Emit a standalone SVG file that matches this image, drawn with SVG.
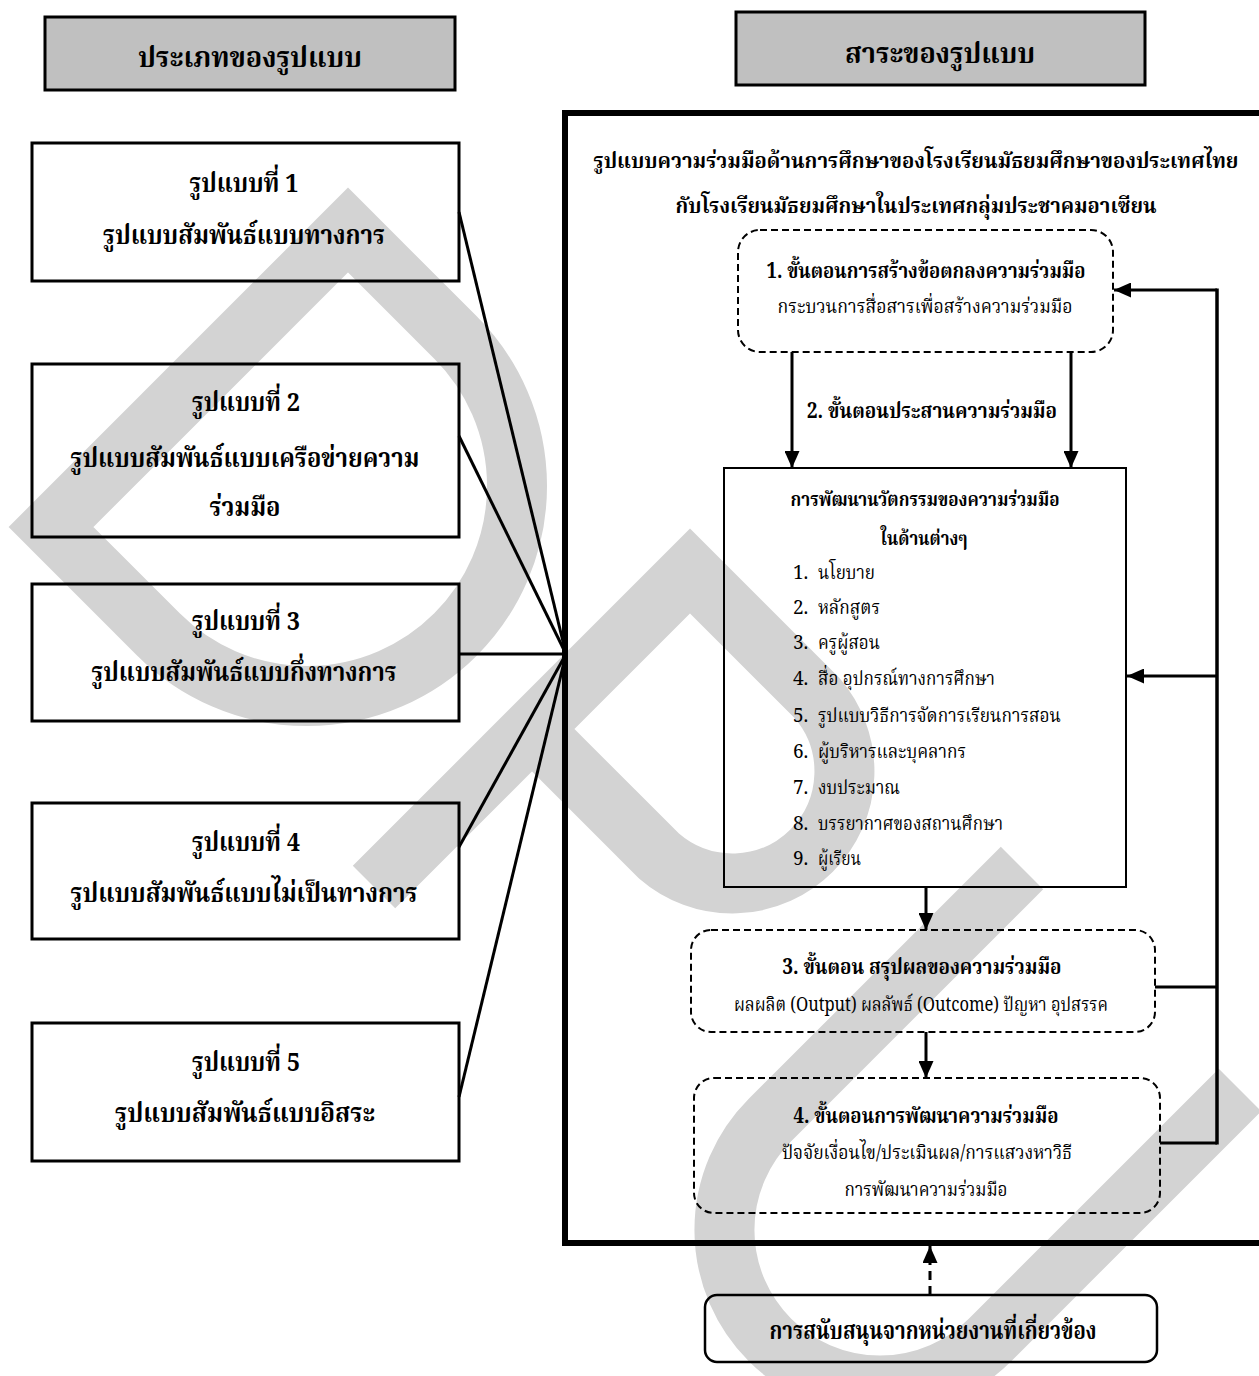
<svg xmlns="http://www.w3.org/2000/svg" width="1259" height="1376" viewBox="0 0 1259 1376">
<style>
  .wm { fill: none; stroke: #d3d3d3; stroke-width: 60; stroke-linejoin: miter; stroke-miterlimit: 10; stroke-linecap: butt; }
  .title { fill: #c0c0c0; stroke: #000; stroke-width: 3; }
  .box { fill: none; stroke: #000; stroke-width: 3; }
  .thin { fill: none; stroke: #000; stroke-width: 2; }
  .dash { fill: none; stroke: #000; stroke-width: 2; stroke-dasharray: 7 4; }
  .conn { fill: none; stroke: #000; stroke-width: 3; }
  .t { font-family: 'Noto Serif Thai', 'Noto Sans Thai', 'Liberation Serif', serif; fill: #000; text-anchor: middle; }
  .b { font-weight: bold; }
  .l { text-anchor: start; }
</style>
<defs>
  <marker id="ah" viewBox="0 0 17 15" refX="17" refY="7.5" markerWidth="17" markerHeight="15" markerUnits="userSpaceOnUse" orient="auto">
    <path d="M0,0 L17,7.5 L0,15 z" fill="#000"/>
  </marker>
</defs>

<g id="watermark">
  <path class="wm" d="M 455.5 337.5 L 348 230 L 51 527 L 158.5 634.5 A 210 210 0 0 0 455.5 337.5 Z"/>
  <path class="wm" d="M 374 887 L 690 571 L 817 698 A 112 112 0 0 1 659 856 L 532 729"/>
  <path class="wm" d="M 1022 868 L 770 1120 A 155 155 0 0 0 990 1340 L 1240 1090"/>
</g>

<g id="title-left">
  <rect class="title" x="45" y="17" width="410" height="73"/>
  <text class="t b" x="250" y="67" font-size="29" textLength="224" lengthAdjust="spacingAndGlyphs">ประเภทของรูปแบบ</text>
</g>
<g id="title-right">
  <rect class="title" x="736" y="12" width="409" height="73"/>
  <text class="t b" x="940" y="63" font-size="29" textLength="190" lengthAdjust="spacingAndGlyphs">สาระของรูปแบบ</text>
</g>

<g id="type1">
  <rect class="box" x="32" y="143" width="427" height="138"/>
  <text class="t b" x="244" y="192" font-size="26" textLength="109" lengthAdjust="spacingAndGlyphs">รูปแบบที่ 1</text>
  <text class="t b" x="244" y="244" font-size="26" textLength="282" lengthAdjust="spacingAndGlyphs">รูปแบบสัมพันธ์แบบทางการ</text>
</g>
<g id="type2">
  <rect class="box" x="32" y="364" width="427" height="173"/>
  <text class="t b" x="246" y="411" font-size="26" textLength="108" lengthAdjust="spacingAndGlyphs">รูปแบบที่ 2</text>
  <text class="t b" x="245" y="467" font-size="26" textLength="349" lengthAdjust="spacingAndGlyphs">รูปแบบสัมพันธ์แบบเครือข่ายความ</text>
  <text class="t b" x="245" y="516" font-size="26" textLength="71" lengthAdjust="spacingAndGlyphs">ร่วมมือ</text>
</g>
<g id="type3">
  <rect class="box" x="32" y="584" width="427" height="137"/>
  <text class="t b" x="246" y="630" font-size="26" textLength="108" lengthAdjust="spacingAndGlyphs">รูปแบบที่ 3</text>
  <text class="t b" x="244" y="681" font-size="26" textLength="305" lengthAdjust="spacingAndGlyphs">รูปแบบสัมพันธ์แบบกึ่งทางการ</text>
</g>
<g id="type4">
  <rect class="box" x="32" y="803" width="427" height="136"/>
  <text class="t b" x="246" y="851" font-size="26" textLength="108" lengthAdjust="spacingAndGlyphs">รูปแบบที่ 4</text>
  <text class="t b" x="244" y="902" font-size="26" textLength="347" lengthAdjust="spacingAndGlyphs">รูปแบบสัมพันธ์แบบไม่เป็นทางการ</text>
</g>
<g id="type5">
  <rect class="box" x="32" y="1023" width="427" height="138"/>
  <text class="t b" x="246" y="1071" font-size="26" textLength="108" lengthAdjust="spacingAndGlyphs">รูปแบบที่ 5</text>
  <text class="t b" x="245" y="1122" font-size="26" textLength="260" lengthAdjust="spacingAndGlyphs">รูปแบบสัมพันธ์แบบอิสระ</text>
</g>

<g id="model-frame">
  <rect x="565" y="113" width="700" height="1130" fill="none" stroke="#000" stroke-width="6"/>
  <text class="t b" x="916" y="168" font-size="20.5" textLength="645" lengthAdjust="spacingAndGlyphs">รูปแบบความร่วมมือด้านการศึกษาของโรงเรียนมัธยมศึกษาของประเทศไทย</text>
  <text class="t b" x="916" y="213" font-size="22" textLength="481" lengthAdjust="spacingAndGlyphs">กับโรงเรียนมัธยมศึกษาในประเทศกลุ่มประชาคมอาเซียน</text>
</g>

<g id="step1">
  <rect class="dash" x="738" y="230" width="375" height="122" rx="22"/>
  <text class="t b" x="926" y="278" font-size="21" textLength="319" lengthAdjust="spacingAndGlyphs">1. ขั้นตอนการสร้างข้อตกลงความร่วมมือ</text>
  <text class="t" x="925" y="313" font-size="19" textLength="295" lengthAdjust="spacingAndGlyphs">กระบวนการสื่อสารเพื่อสร้างความร่วมมือ</text>
</g>

<g id="step2-label">
  <text class="t b" x="932" y="418" font-size="21" textLength="250" lengthAdjust="spacingAndGlyphs">2. ขั้นตอนประสานความร่วมมือ</text>
</g>

<g id="innovation">
  <rect class="thin" x="724" y="468" width="402" height="419"/>
  <text class="t b" x="925" y="506" font-size="20" textLength="269" lengthAdjust="spacingAndGlyphs">การพัฒนานวัตกรรมของความร่วมมือ</text>
  <text class="t b" x="924" y="545" font-size="20" textLength="87" lengthAdjust="spacingAndGlyphs">ในด้านต่างๆ</text>
  <g class="t l" font-size="19">
    <text x="793" y="579">1.</text><text x="818" y="579" textLength="57" lengthAdjust="spacingAndGlyphs">นโยบาย</text>
    <text x="793" y="614">2.</text><text x="818" y="614" textLength="62" lengthAdjust="spacingAndGlyphs">หลักสูตร</text>
    <text x="793" y="649">3.</text><text x="818" y="649" textLength="62" lengthAdjust="spacingAndGlyphs">ครูผู้สอน</text>
    <text x="793" y="685">4.</text><text x="818" y="685" textLength="177" lengthAdjust="spacingAndGlyphs">สื่อ อุปกรณ์ทางการศึกษา</text>
    <text x="793" y="722">5.</text><text x="818" y="722" textLength="243" lengthAdjust="spacingAndGlyphs">รูปแบบวิธีการจัดการเรียนการสอน</text>
    <text x="793" y="758">6.</text><text x="818" y="758" textLength="148" lengthAdjust="spacingAndGlyphs">ผู้บริหารและบุคลากร</text>
    <text x="793" y="794">7.</text><text x="818" y="794" textLength="82" lengthAdjust="spacingAndGlyphs">งบประมาณ</text>
    <text x="793" y="830">8.</text><text x="818" y="830" textLength="185" lengthAdjust="spacingAndGlyphs">บรรยากาศของสถานศึกษา</text>
    <text x="793" y="865">9.</text><text x="818" y="865" textLength="43" lengthAdjust="spacingAndGlyphs">ผู้เรียน</text>
  </g>
</g>

<g id="step3">
  <rect class="dash" x="691" y="930" width="464" height="102" rx="20"/>
  <text class="t b" x="922" y="974" font-size="21" textLength="279" lengthAdjust="spacingAndGlyphs">3. ขั้นตอน สรุปผลของความร่วมมือ</text>
  <text class="t" x="921" y="1011" font-size="19" textLength="374" lengthAdjust="spacingAndGlyphs">ผลผลิต (Output) ผลลัพธ์ (Outcome) ปัญหา อุปสรรค</text>
</g>

<g id="step4">
  <rect class="dash" x="694" y="1078" width="466" height="135" rx="20"/>
  <text class="t b" x="926" y="1123" font-size="21" textLength="265" lengthAdjust="spacingAndGlyphs">4. ขั้นตอนการพัฒนาความร่วมมือ</text>
  <text class="t" x="927" y="1159" font-size="19" textLength="290" lengthAdjust="spacingAndGlyphs">ปัจจัยเงื่อนไข/ประเมินผล/การแสวงหาวิธี</text>
  <text class="t" x="926" y="1196" font-size="19" textLength="163" lengthAdjust="spacingAndGlyphs">การพัฒนาความร่วมมือ</text>
</g>

<g id="support">
  <rect x="705" y="1295" width="452" height="67" rx="12" fill="none" stroke="#000" stroke-width="2.5"/>
  <text class="t b" x="933" y="1339" font-size="24" textLength="327" lengthAdjust="spacingAndGlyphs">การสนับสนุนจากหน่วยงานที่เกี่ยวข้อง</text>
</g>

<g id="connectors">
  <line class="conn" x1="459" y1="212" x2="566" y2="654"/>
  <line class="conn" x1="459" y1="436" x2="566" y2="654"/>
  <line class="conn" x1="459" y1="654" x2="566" y2="654"/>
  <line class="conn" x1="459" y1="847" x2="566" y2="654"/>
  <line class="conn" x1="459" y1="1097" x2="566" y2="654"/>

  <line class="conn" x1="792" y1="352" x2="792" y2="468" marker-end="url(#ah)"/>
  <line class="conn" x1="1071" y1="352" x2="1071" y2="468" marker-end="url(#ah)"/>
  <line class="conn" x1="926" y1="887" x2="926" y2="930" marker-end="url(#ah)"/>
  <line class="conn" x1="926" y1="1032" x2="926" y2="1078" marker-end="url(#ah)"/>
  <line class="conn" x1="930" y1="1295" x2="930" y2="1246" stroke-dasharray="9 6" marker-end="url(#ah)"/>

  <line x1="1217" y1="288.5" x2="1217" y2="1144.5" stroke="#000" stroke-width="3.5"/>
  <line class="conn" x1="1217" y1="290" x2="1114" y2="290" marker-end="url(#ah)"/>
  <line class="conn" x1="1217" y1="676" x2="1127" y2="676" marker-end="url(#ah)"/>
  <line class="conn" x1="1155" y1="987" x2="1217" y2="987"/>
  <line class="conn" x1="1160" y1="1143" x2="1217" y2="1143"/>
</g>
</svg>
